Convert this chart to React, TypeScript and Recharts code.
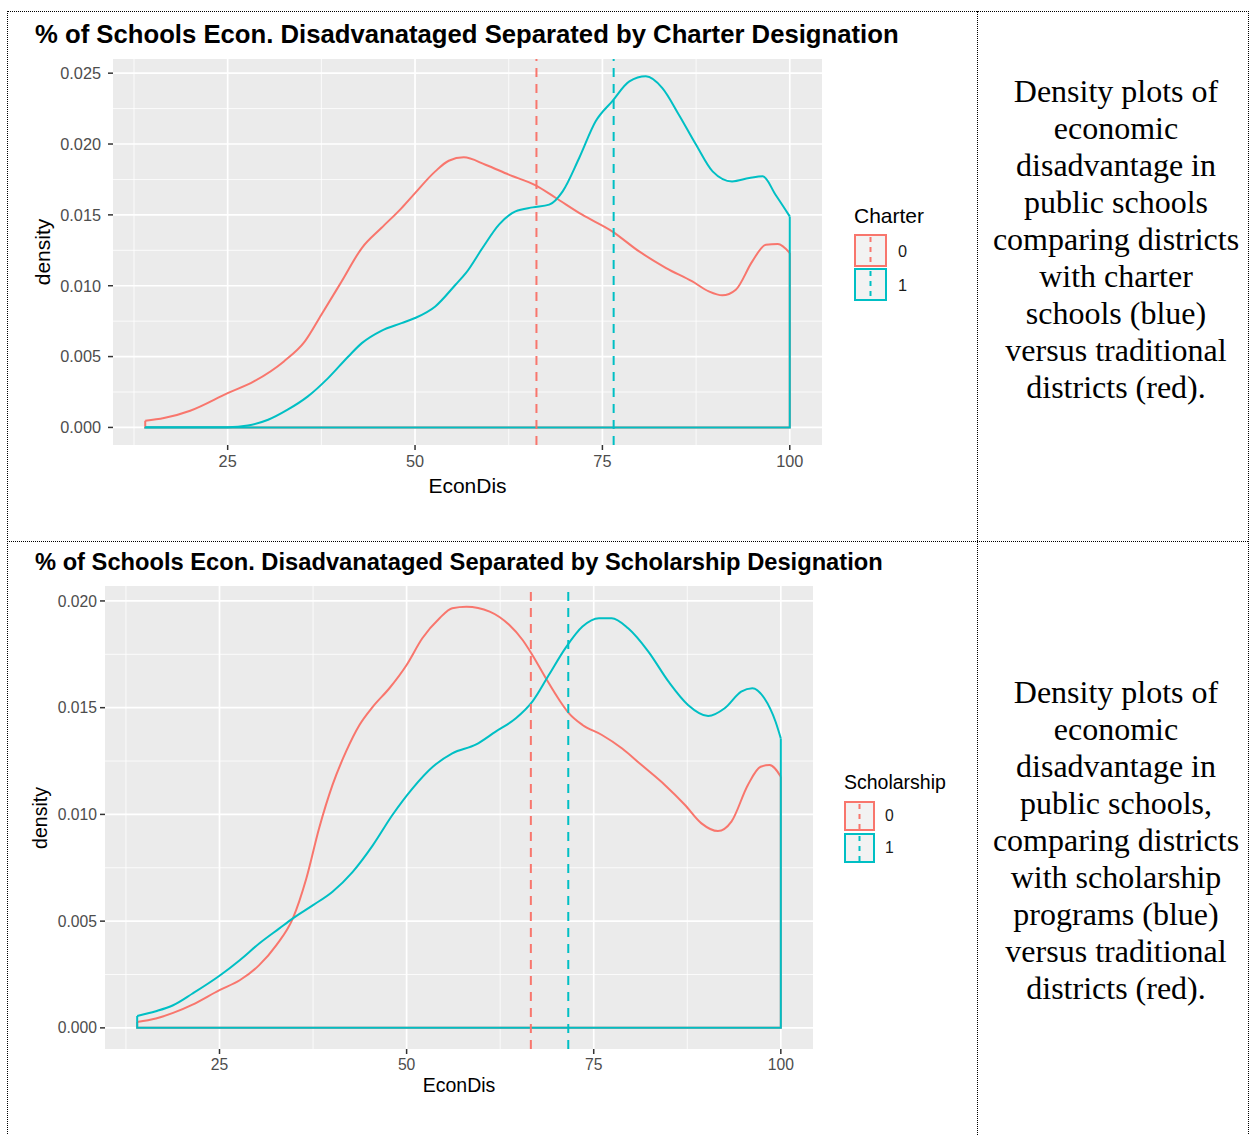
import { CartesianGrid, Line, LineChart, ReferenceLine, XAxis, YAxis } from "recharts";

const RED = "#F8766D";
const TEAL = "#00BFC4";
const SANS = '"Liberation Sans", Arial, Helvetica, sans-serif';
const SERIF = '"Liberation Serif", "Times New Roman", Times, serif';

// EconDis axis (shared by both plots)
const xTicks = [25, 50, 75, 100];
const xMinor = [12.5, 37.5, 62.5, 87.5];
const xDomain = [9.7, 104.3];

// --- Plot 1: Charter designation ---
const charter0X = [14, 16.5, 20, 25, 28.5, 32.5, 35.3, 37.5, 40.2, 42.9, 45.5, 48.2, 50, 52.7, 54.5, 56.5, 59.4, 62.5, 66.1, 68.8, 72.3, 76.3, 79.9, 83.5, 87, 89.2, 91, 92.8, 95, 96.8, 98.4, 100];
const charter0Y = [0.00047, 0.00066, 0.00118, 0.00242, 0.00325, 0.00466, 0.00607, 0.00795, 0.0103, 0.01266, 0.01407, 0.01548, 0.01654, 0.01807, 0.01882, 0.01906, 0.01854, 0.01784, 0.01708, 0.01619, 0.01501, 0.01384, 0.01242, 0.01125, 0.0103, 0.0096, 0.00932, 0.00972, 0.01172, 0.01289, 0.01294, 0.01231];
const charter1X = [14, 20, 25, 27.7, 30.4, 33, 35.7, 38.4, 41.1, 42.9, 45.5, 48.2, 50, 52.7, 55.4, 56.8, 59, 61.2, 63.4, 65.7, 67.9, 69.7, 71.9, 74.1, 76.3, 78.6, 80.8, 83, 85.2, 87.5, 89.7, 92.3, 94.6, 96.4, 98.1, 100];
const charter1Y = [0.00001, 0.00001, 0.00002, 0.00014, 0.00054, 0.00125, 0.00219, 0.00348, 0.00501, 0.00595, 0.00682, 0.00736, 0.00772, 0.00854, 0.01007, 0.0109, 0.01266, 0.01431, 0.01525, 0.01553, 0.01572, 0.01666, 0.01901, 0.0216, 0.02301, 0.02442, 0.02478, 0.02395, 0.02207, 0.01995, 0.01807, 0.01736, 0.0176, 0.01772, 0.01642, 0.01489];
const charterMeans = [66.2, 76.5];
const charterYTicks = [0, 0.005, 0.01, 0.015, 0.02, 0.025];
const charterYMinor = [0.0025, 0.0075, 0.0125, 0.0175, 0.0225];

// --- Plot 2: Scholarship designation ---
const schol0X = [14, 16.5, 18.8, 21.4, 25, 27.7, 30.3, 32.6, 34.8, 36.6, 38.3, 40.1, 41.9, 43.7, 45.5, 47.7, 50, 52.1, 54.4, 56.1, 58, 61.1, 63.7, 65.5, 66.8, 68.6, 70.4, 71.7, 73.5, 76.1, 78.8, 81.4, 84.5, 87.2, 89.4, 91.6, 93.4, 95.6, 97.3, 98.5, 100];
const schol0Y = [0.00028, 0.00044, 0.0007, 0.00109, 0.00177, 0.00223, 0.00294, 0.00388, 0.00513, 0.007, 0.00934, 0.01138, 0.01294, 0.01419, 0.01505, 0.01591, 0.017, 0.01825, 0.01919, 0.01966, 0.01973, 0.0195, 0.01888, 0.01817, 0.01747, 0.01638, 0.01536, 0.01473, 0.01419, 0.01372, 0.01309, 0.01231, 0.01138, 0.01044, 0.00958, 0.00922, 0.00966, 0.01138, 0.01223, 0.01231, 0.01177];
const schol1X = [14, 16.5, 18.8, 21.4, 25, 27.7, 30.3, 33, 34.8, 37.5, 40.1, 42.8, 45.5, 48.1, 50.8, 53.5, 56.1, 59.3, 61.9, 64.6, 66.8, 69, 71.2, 73.5, 75.7, 77.4, 79.6, 82.3, 85, 87.6, 90.3, 92.5, 94.7, 96.2, 97.8, 99.3, 100];
const schol1Y = [0.00056, 0.00078, 0.00106, 0.00161, 0.00244, 0.00317, 0.00395, 0.00466, 0.00513, 0.00575, 0.00638, 0.00731, 0.00856, 0.00997, 0.01122, 0.01223, 0.01286, 0.01328, 0.01388, 0.0145, 0.01528, 0.01653, 0.01778, 0.0188, 0.01919, 0.01919, 0.01872, 0.01763, 0.01622, 0.01513, 0.01461, 0.01497, 0.01575, 0.01591, 0.01544, 0.01434, 0.01356];
const scholMeans = [66.6, 71.6];
const scholYTicks = [0, 0.005, 0.01, 0.015, 0.02];
const scholYMinor = [0.0025, 0.0075, 0.0125, 0.0175];

const groupLabels = ["0", "1"];

const captions = [
  ["Density plots of", "economic", "disadvantage in", "public schools", "comparing districts", "with charter", "schools (blue)", "versus traditional", "districts (red)."],
  ["Density plots of", "economic", "disadvantage in", "public schools,", "comparing districts", "with scholarship", "programs (blue)", "versus traditional", "districts (red)."],
];

type Pt = { x: number; y: number };
const toPts = (xs: number[], ys: number[]): Pt[] => xs.map((x, i) => ({ x, y: ys[i] }));
// ggplot closes the density polygon down to the baseline
const outline = (xs: number[], ys: number[]): Pt[] => [
  { x: xs[0], y: ys[0] },
  { x: xs[0], y: 0 },
  { x: xs[xs.length - 1], y: 0 },
  { x: xs[xs.length - 1], y: ys[ys.length - 1] },
];

interface PlotProps {
  top: number;
  panelLeft: number;
  panelW: number;
  panelH: number;
  title: string;
  titleTop: number;
  titleSize: number;
  tickSize: number;
  yTickMargin: number;
  axisTitleSize: number;
  yLabelX: number;
  xLabelY: number;
  yDomain: number[];
  yTicks: number[];
  yMinor: number[];
  x0: number[];
  y0: number[];
  x1: number[];
  y1: number[];
  means: number[];
  legend: { title: string; x: number; titleY: number; keyW: number; keyH: number; keyTop: number; step: number; labelX: number };
}

function DensityPlot(p: PlotProps) {
  const yAxisW = 70;
  const xAxisH = 40;
  const lg = p.legend;
  return (
    <>
      <div
        style={{
          position: "absolute",
          left: 35,
          top: p.titleTop,
          fontFamily: SANS,
          fontWeight: "bold",
          fontSize: p.titleSize,
          lineHeight: `${p.titleSize}px`,
          whiteSpace: "nowrap",
          color: "#000",
        }}
      >
        {p.title}
      </div>
      <div style={{ position: "absolute", left: 0, top: p.top }}>
        <LineChart
          width={p.panelLeft + p.panelW}
          height={p.panelH + xAxisH}
          margin={{ top: 0, right: 0, bottom: 0, left: p.panelLeft - yAxisW }}
        >
          <CartesianGrid
            fill="#EBEBEB"
            fillOpacity={1}
            stroke="#FFFFFF"
            strokeWidth={0.8}
            horizontalValues={p.yMinor}
            verticalValues={xMinor}
          />
          <CartesianGrid stroke="#FFFFFF" strokeWidth={1.7} horizontalValues={p.yTicks} verticalValues={xTicks} />
          <XAxis
            dataKey="x"
            type="number"
            domain={xDomain}
            ticks={xTicks}
            interval={0}
            allowDataOverflow
            axisLine={false}
            tickLine={{ stroke: "#333333", strokeWidth: 1.5 }}
            tickSize={5}
            tickMargin={5}
            height={xAxisH}
            tick={{ fontSize: p.tickSize, fill: "#4D4D4D", fontFamily: SANS }}
          />
          <YAxis
            type="number"
            domain={p.yDomain}
            ticks={p.yTicks}
            interval={0}
            allowDataOverflow
            axisLine={false}
            tickLine={{ stroke: "#333333", strokeWidth: 1.5 }}
            tickSize={5}
            tickMargin={p.yTickMargin}
            width={yAxisW}
            tickFormatter={(v: number) => v.toFixed(3)}
            tick={{ fontSize: p.tickSize, fill: "#4D4D4D", fontFamily: SANS }}
          />
          <Line data={outline(p.x0, p.y0)} dataKey="y" type="linear" stroke={RED} strokeWidth={2} dot={false} activeDot={false} isAnimationActive={false} />
          <Line data={toPts(p.x0, p.y0)} dataKey="y" type="monotone" stroke={RED} strokeWidth={2} dot={false} activeDot={false} isAnimationActive={false} />
          <Line data={outline(p.x1, p.y1)} dataKey="y" type="linear" stroke={TEAL} strokeWidth={2} dot={false} activeDot={false} isAnimationActive={false} />
          <Line data={toPts(p.x1, p.y1)} dataKey="y" type="monotone" stroke={TEAL} strokeWidth={2} dot={false} activeDot={false} isAnimationActive={false} />
          <ReferenceLine x={p.means[0]} stroke={RED} strokeWidth={2} strokeDasharray="9 7" />
          <ReferenceLine x={p.means[1]} stroke={TEAL} strokeWidth={2} strokeDasharray="9 7" />
        </LineChart>
      </div>
      {/* axis titles */}
      <div
        style={{
          position: "absolute",
          left: p.yLabelX,
          top: p.top + p.panelH / 2,
          transform: "translate(-50%, -50%) rotate(-90deg)",
          fontFamily: SANS,
          fontSize: p.axisTitleSize,
          lineHeight: 1,
          color: "#000",
        }}
      >
        density
      </div>
      <div
        style={{
          position: "absolute",
          left: p.panelLeft + p.panelW / 2,
          top: p.xLabelY,
          transform: "translate(-50%, -50%)",
          fontFamily: SANS,
          fontSize: p.axisTitleSize,
          lineHeight: 1,
          color: "#000",
        }}
      >
        EconDis
      </div>
      {/* legend */}
      <div
        style={{
          position: "absolute",
          left: lg.x,
          top: lg.titleY,
          transform: "translateY(-50%)",
          fontFamily: SANS,
          fontSize: p.axisTitleSize,
          lineHeight: 1,
          color: "#000",
        }}
      >
        {lg.title}
      </div>
      {groupLabels.map((g, i) => {
        const col = i === 0 ? RED : TEAL;
        const top = lg.keyTop + i * lg.step;
        return (
          <div key={g}>
            <svg
              width={lg.keyW}
              height={lg.keyH}
              style={{ position: "absolute", left: lg.x, top }}
            >
              <rect x={1} y={1} width={lg.keyW - 2} height={lg.keyH - 2} fill="#F2F2F2" stroke={col} strokeWidth={2} />
              <line x1={lg.keyW / 2} x2={lg.keyW / 2} y1={0} y2={lg.keyH} stroke={col} strokeWidth={2} strokeDasharray="5 5" strokeDashoffset={-3} />
            </svg>
            <div
              style={{
                position: "absolute",
                left: lg.labelX,
                top: top + lg.keyH / 2,
                transform: "translateY(-50%)",
                fontFamily: SANS,
                fontSize: p.tickSize,
                lineHeight: 1,
                color: "#1A1A1A",
              }}
            >
              {g}
            </div>
          </div>
        );
      })}
    </>
  );
}

function Caption({ lines, top }: { lines: string[]; top: number }) {
  return (
    <div
      style={{
        position: "absolute",
        left: 982,
        width: 268,
        top,
        textAlign: "center",
        fontFamily: SERIF,
        fontSize: 32,
        lineHeight: "37px",
        color: "#000",
      }}
    >
      {lines.map((l) => (
        <div key={l}>{l}</div>
      ))}
    </div>
  );
}

export default function App() {
  const dotted = "1px dotted #000";
  return (
    <div
      style={{
        position: "absolute",
        left: 0,
        top: 0,
        width: 1251,
        height: 1135,
        background: "#fff",
        overflow: "hidden",
      }}
    >
      {/* table frame */}
      <div style={{ position: "absolute", left: 7, top: 11, width: 1240, height: 1140, borderTop: dotted, borderLeft: dotted, borderRight: dotted }} />
      <div style={{ position: "absolute", left: 977, top: 11, width: 0, height: 1140, borderLeft: dotted }} />
      <div style={{ position: "absolute", left: 7, top: 541, width: 1241, height: 0, borderTop: dotted }} />

      <DensityPlot
        top={59}
        panelLeft={113}
        panelW={709}
        panelH={386}
        title="% of Schools Econ. Disadvanataged Separated by Charter Designation"
        titleTop={22}
        titleSize={25.7}
        tickSize={16.3}
        yTickMargin={7}
        axisTitleSize={21}
        yLabelX={42}
        xLabelY={485}
        yDomain={[-0.00124, 0.026]}
        yTicks={charterYTicks}
        yMinor={charterYMinor}
        x0={charter0X}
        y0={charter0Y}
        x1={charter1X}
        y1={charter1Y}
        means={charterMeans}
        legend={{ title: "Charter", x: 854, titleY: 215, keyW: 33, keyH: 33, keyTop: 234, step: 34, labelX: 898 }}
      />
      <DensityPlot
        top={586}
        panelLeft={105}
        panelW={708}
        panelH={463}
        title="% of Schools Econ. Disadvanataged Separated by Scholarship Designation"
        titleTop={551}
        titleSize={23.7}
        tickSize={15.7}
        yTickMargin={3}
        axisTitleSize={19.5}
        yLabelX={41}
        xLabelY={1086}
        yDomain={[-0.00099, 0.0207]}
        yTicks={scholYTicks}
        yMinor={scholYMinor}
        x0={schol0X}
        y0={schol0Y}
        x1={schol1X}
        y1={schol1Y}
        means={scholMeans}
        legend={{ title: "Scholarship", x: 844, titleY: 783, keyW: 31, keyH: 30, keyTop: 801, step: 31.5, labelX: 885 }}
      />

      <Caption lines={captions[0]} top={73} />
      <Caption lines={captions[1]} top={674} />
    </div>
  );
}
